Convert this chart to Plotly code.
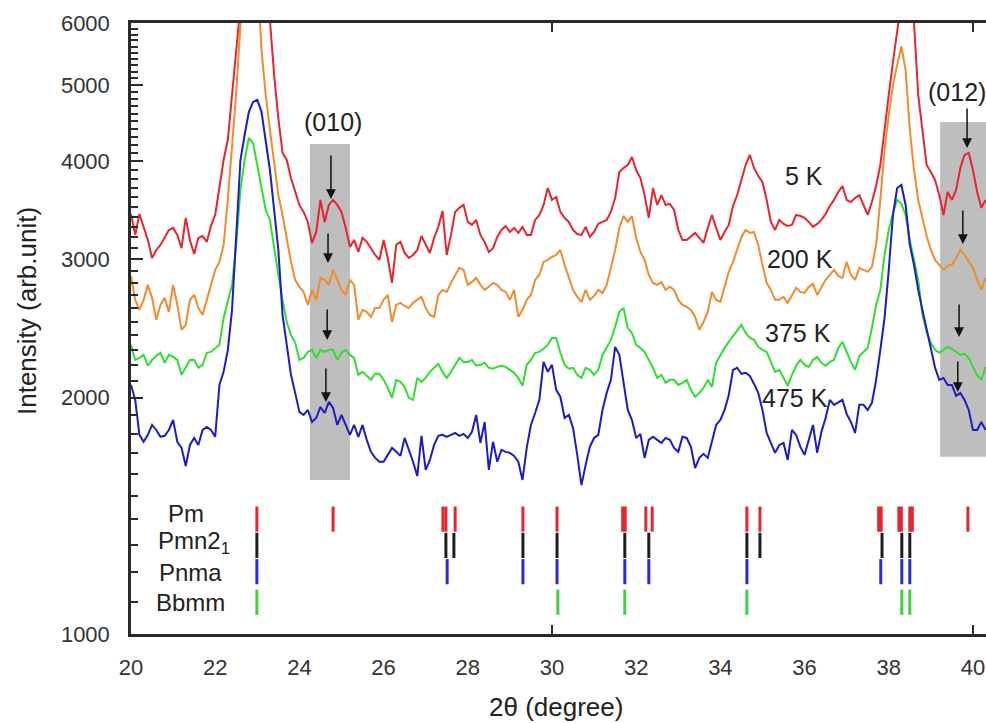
import numpy as np
import plotly.graph_objects as go

# 2θ scan grid (degrees), 0.1° step
two_theta = [round(20 + 0.1 * i, 1) for i in range(204)]

# Diffracted intensity (arb. unit) at each temperature
i_5K = [
    3427, 3223, 3427, 3290, 3176, 3012, 3084, 3130, 3195, 3270,
    3290, 3223, 3100, 3388, 3176, 3048, 3195, 3213, 3158, 3309,
    3417, 3731, 4015, 4260, 4860, 5627, 6500, 7200, 7600, 7800,
    7700, 7300, 6700, 6050, 5153, 4540, 4100, 4015, 3808, 3655,
    3519, 3448, 3348, 3148, 3251, 3571, 3348, 3519, 3571, 3519,
    3448, 3290, 3112, 3176, 3066, 3195, 3158, 3100, 3039, 2995,
    3176, 3012, 2800, 3130, 3158, 3057, 3012, 3039, 3084, 3213,
    3130, 3057, 3195, 3300, 3458, 3039, 3223, 3448, 3489, 3519,
    3348, 3319, 3368, 3223, 3158, 3066, 3100, 3204, 3270, 3309,
    3251, 3290, 3242, 3300, 3223, 3223, 3368, 3417, 3519, 3698,
    3571, 3602, 3448, 3388, 3348, 3270, 3232, 3223, 3300, 3204,
    3251, 3329, 3348, 3368, 3448, 3592, 3876, 3922, 3956, 4050,
    3899, 3808, 3623, 3388, 3698, 3519, 3623, 3519, 3530, 3468,
    3270, 3176, 3176, 3213, 3242, 3195, 3148, 3290, 3417, 3290,
    3176, 3251, 3319, 3509, 3623, 3786, 3956, 4074, 3922, 3831,
    3764, 3571, 3348, 3270, 3368, 3329, 3309, 3319, 3417, 3407,
    3388, 3348, 3300, 3329, 3368, 3427, 3509, 3571, 3655, 3720,
    3571, 3550, 3592, 3623, 3519, 3417, 3550, 3720, 3956, 4413,
    4860, 5353, 5880, 6500, 7000, 6800, 6000, 4860, 4348, 3956,
    3876, 3786, 3623, 3417, 3655, 3571, 3677, 3922, 4074, 4100,
    3899, 3655, 3489, 3571,
]
i_200K = [
    2858, 2664, 2587, 2664, 2784, 2680, 2512, 2625, 2680, 2572,
    2784, 2625, 2440, 2476, 2664, 2703, 2602, 2549, 2664, 2784,
    2909, 2978, 3130, 3571, 4137, 4903, 5966, 6800, 7500, 7700,
    7000, 5545, 4860, 4387, 4015, 3623, 3417, 3195, 2978, 2825,
    2768, 2727, 2625, 2743, 2664, 2841, 2825, 2784, 2909, 2825,
    2743, 2703, 2825, 2784, 2512, 2587, 2572, 2534, 2602, 2602,
    2664, 2703, 2497, 2625, 2641, 2617, 2602, 2641, 2664, 2688,
    2602, 2549, 2534, 2703, 2743, 2727, 2800, 2866, 2926, 2909,
    2784, 2808, 2841, 2784, 2743, 2768, 2800, 2784, 2743, 2727,
    2664, 2743, 2534, 2587, 2664, 2703, 2825, 2866, 2978, 2995,
    3021, 3039, 3084, 2952, 2841, 2743, 2688, 2649, 2743, 2664,
    2695, 2743, 2719, 2784, 2926, 3084, 3290, 3407, 3348, 3407,
    3195, 3066, 2995, 2866, 2800, 2784, 2808, 2743, 2768, 2743,
    2664, 2625, 2610, 2587, 2534, 2440, 2497, 2572, 2727, 2664,
    2649, 2760, 2892, 2978, 3084, 3204, 3270, 3242, 3251, 3130,
    2952, 2800, 2743, 2664, 2664, 2688, 2641, 2703, 2760, 2727,
    2719, 2768, 2792, 2703, 2760, 2825, 2866, 2909, 2858, 2841,
    2978, 2866, 2825, 2926, 2909, 2892, 2935, 3130, 3571, 4137,
    4584, 5004, 5307, 5600, 5229, 4387, 3899, 3571, 3388, 3213,
    3084, 2995, 2952, 2909, 2944, 2952, 3012, 3084, 3039, 2978,
    2926, 2825, 2743, 2841,
]
i_375K = [
    2335, 2234, 2247, 2267, 2196, 2234, 2260, 2281, 2215, 2267,
    2254, 2234, 2138, 2183, 2234, 2234, 2183, 2202, 2281, 2287,
    2314, 2335, 2527, 2649, 2784, 3130, 3677, 4015, 4285, 4220,
    3956, 3731, 3468, 3368, 3084, 2866, 2664, 2497, 2404, 2349,
    2234, 2247, 2287, 2301, 2247, 2301, 2287, 2301, 2301, 2234,
    2281, 2301, 2267, 2247, 2138, 2157, 2132, 2107, 2145, 2145,
    2107, 2058, 1999, 2107, 2095, 2064, 1999, 1987, 2119, 2095,
    2119, 2157, 2183, 2208, 2157, 2119, 2157, 2202, 2247, 2221,
    2221, 2234, 2196, 2202, 2215, 2183, 2177, 2189, 2196, 2189,
    2170, 2151, 2119, 2070, 2202, 2234, 2281, 2287, 2308, 2335,
    2383, 2383, 2281, 2202, 2177, 2183, 2138, 2119, 2183, 2170,
    2138, 2170, 2267, 2314, 2369, 2462, 2572, 2602, 2454, 2418,
    2335, 2314, 2287, 2234, 2183, 2119, 2138, 2089, 2107, 2107,
    2076, 2089, 2107, 2046, 2004, 2028, 2058, 2107, 2064, 2215,
    2267, 2314, 2355, 2397, 2440, 2476, 2418, 2383, 2369, 2321,
    2301, 2287, 2221, 2157, 2170, 2119, 2070, 2138, 2196, 2234,
    2202, 2189, 2234, 2254, 2215, 2196, 2221, 2234, 2314, 2355,
    2281, 2221, 2170, 2260, 2287, 2314, 2454, 2625, 2743, 3039,
    3270, 3438, 3571, 3530, 3417, 3176, 2995, 2825, 2549, 2425,
    2349, 2301, 2281, 2301, 2321, 2308, 2287, 2267, 2274, 2247,
    2189, 2138, 2107, 2189,
]
i_475K = [
    2076, 1987, 1793, 1757, 1793, 1846, 1819, 1783, 1788, 1819,
    1873, 1757, 1726, 1637, 1741, 1777, 1741, 1819, 1835, 1819,
    1783, 2076, 2157, 2301, 2587, 3176, 4015, 4323, 4624, 4761,
    4789, 4624, 4260, 3899, 3468, 3084, 2549, 2335, 2138, 2028,
    1918, 1901, 1929, 1862, 1884, 1946, 1912, 1975, 1940, 1846,
    1901, 1846, 1793, 1846, 1783, 1846, 1767, 1706, 1676, 1657,
    1657, 1691, 1726, 1706, 1686, 1777, 1716, 1657, 1589, 1788,
    1618, 1666, 1741, 1788, 1793, 1783, 1793, 1803, 1788, 1798,
    1777, 1809, 1901, 1751, 1862, 1618, 1757, 1657, 1716, 1706,
    1701, 1686, 1657, 1571, 1726, 1846, 1912, 1987, 2221, 2157,
    2202, 2046, 2004, 1884, 1901, 1830, 1691, 1548, 1642, 1731,
    1777, 1793, 1929, 2028, 2107, 2321, 2267, 2095, 1929, 1873,
    1777, 1798, 1676, 1767, 1783, 1767, 1751, 1777, 1767, 1726,
    1706, 1783, 1777, 1731, 1627, 1676, 1696, 1676, 1767, 1846,
    1873, 1929, 2016, 2170, 2183, 2145, 2151, 2132, 2082, 2028,
    1929, 1803, 1751, 1701, 1741, 1751, 1666, 1819, 1793, 1731,
    1691, 1767, 1846, 1701, 1809, 1884, 1987, 1958, 1975, 1987,
    1907, 1862, 1803, 1958, 1958, 1929, 1970, 2107, 2301, 2527,
    2909, 3417, 3698, 3731, 3519, 3130, 2952, 2743, 2587, 2440,
    2301, 2183, 2107, 2119, 2076, 2076, 2010, 2028, 1987, 1929,
    1819, 1819, 1862, 1819,
]
for s in (i_5K, i_200K, i_375K, i_475K):
    assert len(s) == len(two_theta), len(s)

# Calculated reflection positions (2θ) for each candidate space group
pm_peaks = [22.99, 24.80, 27.41, 27.48, 27.70, 29.31, 30.12, 31.68, 31.74,
            32.23, 32.38, 34.63, 34.94, 37.76, 37.82, 38.24, 38.30, 38.50,
            38.56, 39.88]
pmn21_peaks = [22.99, 27.48, 27.67, 29.31, 30.12, 31.73, 32.30, 34.63, 34.94,
               37.84, 38.31, 38.50]
pnma_peaks = [22.99, 27.51, 29.31, 30.12, 31.73, 32.30, 34.63, 37.81, 38.31,
              38.50]
bbmm_peaks = [22.99, 30.14, 31.73, 34.63, 38.31, 38.50]

# Arrow tips marking the superlattice reflections: (2θ, intensity)
arrows_010 = [(24.75, 3582), (24.68, 2969), (24.66, 2369), (24.63, 1975)]
arrows_012 = [(39.86, 4160), (39.76, 3139), (39.67, 2390), (39.64, 2034)]
arrow_len_010 = [45, 31, 32, 35]
arrow_len_012 = [41, 35, 34, 32]

FONT = "Liberation Sans, Arial, sans-serif"
TXT = "#222222"
AXC = "#2a2a2a"

curves = [
    ("5 K", i_5K, "#E4262E"),
    ("200 K", i_200K, "#F08C2E"),
    ("375 K", i_375K, "#30DE30"),
    ("475 K", i_475K, "#1C1CC6"),
]

fig = go.Figure()
for name, vals, col in curves:
    fig.add_trace(go.Scatter(
        x=two_theta, y=vals, mode="lines", name=name,
        line=dict(color=col, width=2), hoverinfo="skip", showlegend=False,
    ))

# Reflection markers, one row per space group (row height in paper units)
rows = [
    ("Pm", pm_peaks, "#E4262E", 0.188, 0.198, 186),
    ("Pmn2<sub>1</sub>", pmn21_peaks, "#1e1e1e", 0.145, 0.149, 194),
    ("Pnma", pnma_peaks, "#2B2BD0", 0.102, 0.100, 190),
    ("Bbmm", bbmm_peaks, "#40D040", 0.052, 0.051, 190),
]
annotations = []
for label, peaks, col, yrow, ylab, xlab_px in rows:
    fig.add_trace(go.Scatter(
        x=peaks, y=[yrow] * len(peaks), yaxis="y2", mode="markers",
        marker=dict(symbol="line-ns", size=18, line=dict(width=3, color=col)),
        hoverinfo="skip", showlegend=False,
    ))
    annotations.append(dict(
        text=label, xref="paper", yref="paper",
        x=(xlab_px - 131) / 855, y=ylab, xanchor="center", yanchor="middle",
        showarrow=False, font=dict(family=FONT, size=24, color=TXT),
    ))

# Highlighted windows around the (010) and (012) positions
shapes = [
    dict(type="rect", xref="x", yref="paper", x0=24.25, x1=25.20,
         y0=0.252, y1=0.802, fillcolor="#BEBEBE", line=dict(width=0),
         layer="below"),
    dict(type="rect", xref="x", yref="paper", x0=39.22, x1=40.31,
         y0=0.290, y1=0.838, fillcolor="#BEBEBE", line=dict(width=0),
         layer="below"),
]

for (x, y), ln in list(zip(arrows_010, arrow_len_010)) + list(zip(arrows_012, arrow_len_012)):
    annotations.append(dict(
        x=x, y=np.log10(y), xref="x", yref="y", text="", showarrow=True,
        ax=0, ay=-ln, axref="pixel", ayref="pixel",
        arrowhead=2, arrowsize=1.3, arrowwidth=1.5, arrowcolor="#111111",
    ))

label_font = dict(family=FONT, size=25, color=TXT)
for text, x, yp in [("(010)", 24.80, 0.838), ("(012)", 39.62, 0.887),
                    ("5 K", 35.99, 0.750), ("200 K", 35.89, 0.614),
                    ("375 K", 35.84, 0.493), ("475 K", 35.77, 0.386)]:
    annotations.append(dict(text=text, x=x, y=yp, xref="x", yref="paper",
                            showarrow=False, xanchor="center",
                            yanchor="middle", font=label_font))

annotations.append(dict(
    text="Intensity (arb.unit)", xref="paper", yref="paper",
    x=(27 - 131) / 855, y=(634 - 311) / 611, textangle=-90,
    showarrow=False, xanchor="center", yanchor="middle",
    font=dict(family=FONT, size=26, color=TXT),
))
annotations.append(dict(
    text="2θ (degree)", xref="paper", yref="paper",
    x=(556 - 131) / 855, y=(634 - 707) / 611,
    showarrow=False, xanchor="center", yanchor="middle",
    font=dict(family=FONT, size=26, color=TXT),
))

y_major = [1000, 2000, 3000, 4000, 5000, 6000]
y_minor = [v for v in range(1100, 6000, 100) if v % 1000]

fig.update_layout(
    width=986, height=723,
    margin=dict(l=131, r=0, t=23, b=89),
    paper_bgcolor="white", plot_bgcolor="white",
    showlegend=False,
    shapes=shapes, annotations=annotations,
    xaxis=dict(
        range=[20, 40.31], tickvals=list(range(20, 41, 2)), ticks="",
        showline=True, linecolor=AXC, linewidth=2.5, mirror="ticks",
        showgrid=False, zeroline=False, ticklabelstandoff=12,
        tickfont=dict(family=FONT, size=22, color="#333333"),
        minor=dict(tickmode="array", tickvals=[30, 40], ticks="inside",
                   ticklen=9, tickwidth=2, tickcolor=AXC),
    ),
    yaxis=dict(
        type="log", range=[3, np.log10(6000)],
        tickvals=y_major, ticktext=[str(v) for v in y_major],
        ticks="inside", ticklen=12, tickwidth=2, tickcolor=AXC,
        showline=True, linecolor=AXC, linewidth=2.5,
        showgrid=False, zeroline=False, ticklabelstandoff=14,
        tickfont=dict(family=FONT, size=22, color="#333333"),
        minor=dict(tickmode="array", tickvals=y_minor, ticks="inside",
                   ticklen=7, tickwidth=2, tickcolor=AXC),
    ),
    yaxis2=dict(overlaying="y", range=[0, 1], visible=False,
                fixedrange=True),
)

fig.write_html("out.html")
